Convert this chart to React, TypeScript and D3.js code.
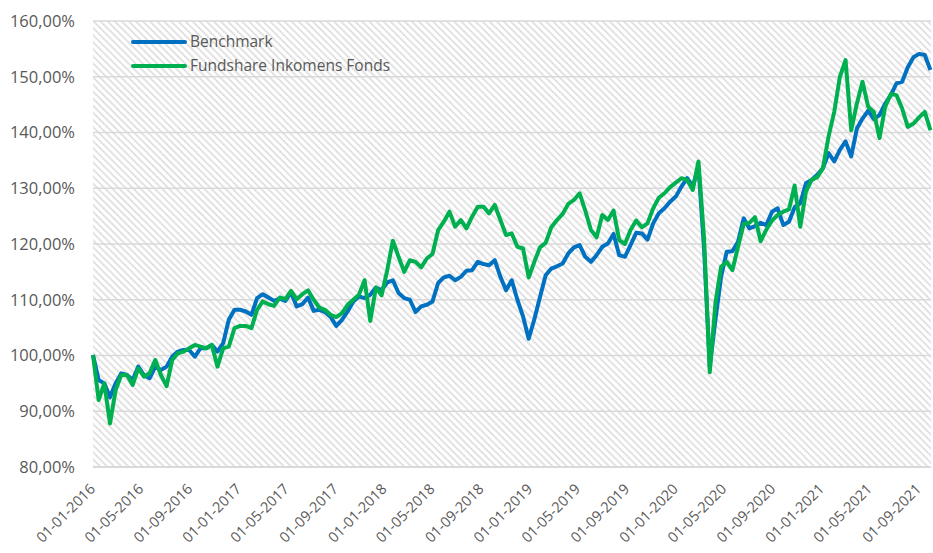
import * as d3 from 'd3'

// one reading roughly every two weeks, from 01-01-2016
const startDate = new Date(2016, 0, 1)
const stepDays = 14.18

const benchmark = [
  100.1, 95.6, 95.0, 92.5, 95.0, 96.8, 96.5, 95.6, 98.0, 96.5,
  95.9, 98.0, 97.4, 98.0, 99.8, 100.7, 101.0, 101.0, 99.8, 101.3,
  101.3, 101.9, 100.7, 102.2, 106.4, 108.2, 108.2, 107.9, 107.3, 110.3,
  111.0, 110.4, 109.8, 110.2, 109.8, 111.3, 108.8, 109.2, 110.4, 108.0,
  108.2, 107.8, 106.9, 105.3, 106.4, 107.9, 109.7, 110.6, 110.3, 110.9,
  112.2, 111.7, 113.1, 113.5, 111.2, 110.3, 110.0, 107.8, 108.8, 109.1,
  109.7, 113.0, 114.0, 114.3, 113.5, 114.1, 115.2, 115.3, 116.8, 116.4,
  116.2, 117.1, 114.1, 111.7, 113.5, 110.0, 107.0, 103.0, 106.5, 110.5,
  114.4, 115.6, 116.0, 116.5, 118.3, 119.4, 119.8, 117.7, 116.8, 118.0,
  119.5, 120.1, 121.8, 118.0, 117.7, 119.8, 122.0, 121.9, 120.8, 123.7,
  125.5, 126.4, 127.6, 128.5, 130.3, 131.8, 130.3, 133.9, 119.0, 98.0,
  106.4, 114.1, 118.6, 118.7, 120.4, 124.6, 122.8, 123.2, 123.8, 123.4,
  125.8, 126.4, 123.4, 124.0, 126.6, 127.3, 130.9, 131.5, 132.4, 133.6,
  136.3, 134.8, 136.9, 138.4, 135.7, 140.7, 142.5, 143.9, 142.4, 143.1,
  145.2, 146.7, 148.8, 149.1, 151.7, 153.5, 154.1, 153.9, 151.2,
]

const fundshare = [
  100.1, 92.0, 95.0, 87.8, 93.8, 96.5, 96.5, 94.7, 97.7, 96.2,
  96.8, 99.2, 96.5, 94.5, 99.2, 100.4, 100.7, 101.3, 101.9, 101.6,
  101.3, 101.9, 98.0, 101.3, 101.6, 104.9, 105.3, 105.3, 104.9, 108.2,
  109.7, 109.2, 108.9, 110.4, 110.1, 111.6, 110.1, 111.0, 111.7, 110.0,
  108.6, 108.2, 107.3, 106.9, 107.6, 109.1, 110.0, 110.9, 113.5, 106.2,
  112.2, 110.8, 115.3, 120.6, 117.7, 115.0, 117.1, 116.8, 115.8, 117.4,
  118.2, 122.5, 124.0, 125.8, 123.1, 124.3, 122.8, 124.9, 126.7, 126.7,
  125.5, 127.0, 124.3, 121.6, 121.9, 119.5, 119.2, 114.0, 116.8, 119.4,
  120.2, 123.0, 124.3, 125.4, 127.2, 127.9, 129.1, 126.0, 122.5, 121.2,
  125.2, 124.3, 126.0, 120.7, 120.0, 122.5, 124.2, 123.0, 123.7, 126.4,
  128.3, 129.1, 130.2, 131.0, 131.8, 131.5, 129.7, 134.8, 121.0, 97.0,
  109.4, 115.9, 116.8, 115.3, 119.5, 123.6, 123.8, 124.8, 120.5, 122.6,
  124.2, 125.2, 125.8, 126.2, 130.5, 123.1, 129.4, 131.5, 132.0, 133.6,
  139.3, 143.7, 150.0, 153.0, 140.4, 145.2, 149.1, 144.6, 143.7, 139.0,
  144.6, 146.9, 146.7, 144.3, 141.0, 141.6, 142.7, 143.7, 140.4,
]

const yTicks = [80, 90, 100, 110, 120, 130, 140, 150, 160]
const seriesNames = ['Benchmark', 'Fundshare Inkomens Fonds']
const seriesColors = ['#0070C0', '#00B050']

const W = 933
const H = 553
const plot = { left: 93, right: 931, top: 21, bottom: 467 }
const textColor = '#595959'
const font = "'Open Sans', sans-serif"

type Pt = { date: Date; value: number }

export default function App() {
  const dates = benchmark.map(
    (_, i) => new Date(startDate.getTime() + i * stepDays * 864e5),
  )

  const x = d3
    .scaleTime()
    .domain([startDate, new Date(2021, 8, 1)])
    .range([plot.left, 919])
  const y = d3.scaleLinear().domain([80, 160]).range([plot.bottom, plot.top])

  const xTicks = d3.timeMonth.every(4)!.range(startDate, new Date(2021, 8, 2))
  const fmt = d3.timeFormat('%d-%m-%Y')
  const yFmt = (d: number) => `${d},00%`

  const line = d3
    .line<Pt>()
    .x(d => x(d.date))
    .y(d => y(d.value))

  const series = [benchmark, fundshare].map(vals =>
    vals.map((v, i) => ({ date: dates[i], value: v })),
  )

  return (
    <svg
      width={W}
      height={H}
      style={{ position: 'absolute', left: 0, top: 0, background: '#fff' }}
    >
      <defs>
        <pattern
          id="hatch"
          width={5}
          height={5}
          patternUnits="userSpaceOnUse"
          patternTransform="rotate(-45)"
        >
          <line x1={1} y1={0} x2={1} y2={5} stroke="#cfcfcf" strokeWidth={1.7} strokeDasharray="1.5 0.8" />
        </pattern>
      </defs>

      <rect
        x={plot.left}
        y={plot.top}
        width={plot.right - plot.left}
        height={plot.bottom - plot.top}
        fill="url(#hatch)"
      />

      {/* Gridlines */}
      {yTicks.map(t => (
        <line
          key={t}
          x1={plot.left}
          x2={plot.right}
          y1={y(t)}
          y2={y(t)}
          stroke="#d9d9d9"
          strokeWidth={t === 80 ? 2 : 1.5}
        />
      ))}

      {/* Y axis labels */}
      {yTicks.map(t => (
        <text
          key={t}
          x={75}
          y={y(t)}
          dy="0.35em"
          textAnchor="end"
          fill={textColor}
          fontFamily={font}
          fontSize={16.5}
        >
          {yFmt(t)}
        </text>
      ))}

      {/* X axis labels */}
      {xTicks.map(d => (
        <text
          key={d.getTime()}
          transform={`translate(${x(d) + 3},${490}) rotate(-45)`}
          textAnchor="end"
          fill={textColor}
          fontFamily={font}
          fontSize={14.5}
        >
          {fmt(d)}
        </text>
      ))}

      {/* Series */}
      {series.map((s, i) => (
        <path
          key={i}
          d={line(s) ?? ''}
          fill="none"
          stroke={seriesColors[i]}
          strokeWidth={4}
          strokeLinejoin="round"
        />
      ))}

      {/* Legend */}
      {seriesNames.map((name, i) => (
        <g key={name} transform={`translate(133,${42 + i * 24})`}>
          <line x1={0} x2={52} y1={0} y2={0} stroke={seriesColors[i]} strokeWidth={4} strokeLinecap="round" />
          <text x={57} y={0} dy="0.35em" fill={textColor} fontFamily={font} fontSize={15.5}>
            {name}
          </text>
        </g>
      ))}
    </svg>
  )
}
